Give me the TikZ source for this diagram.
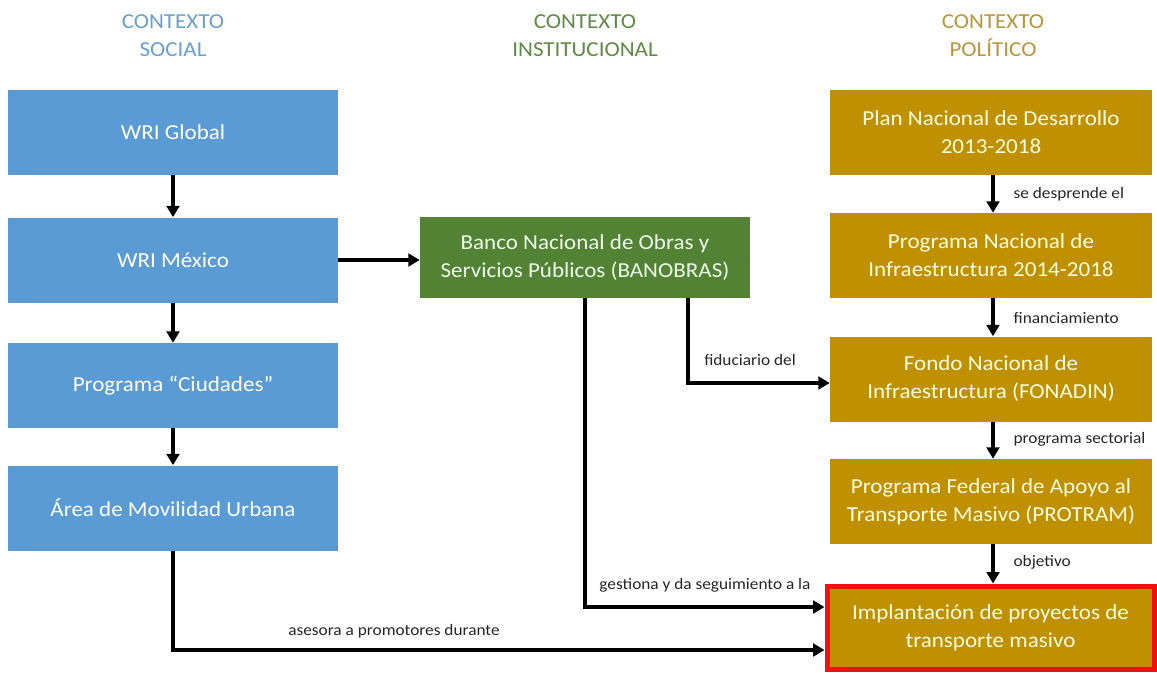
\documentclass[tikz,border=0pt]{standalone}
\usepackage{fontspec}
\setmainfont{Carlito}[FakeStretch=1.08]
\usetikzlibrary{arrows.meta}
\definecolor{cblue}{HTML}{5B9BD5}
\definecolor{cgreen}{HTML}{548235}
\definecolor{cgold}{HTML}{BF9000}
\definecolor{tblue}{HTML}{6A9FD0}
\definecolor{tgreen}{HTML}{5E8A45}
\definecolor{tgold}{HTML}{B8963A}
\definecolor{cred}{HTML}{F01010}
\begin{document}
\begin{tikzpicture}[x=0.75pt,y=-0.75pt,
  box/.style={rectangle, inner sep=0pt, align=center, font=\fontsize{16}{21}\selectfont},
  sbox/.style={box, fill=cblue, text=white, minimum width=247.5pt, minimum height=63.75pt},
  gbox/.style={box, fill=cgreen, text=green!8, minimum width=247.5pt, minimum height=60.75pt},
  pbox/.style={box, fill=cgold, text=yellow!12, minimum width=241.5pt, minimum height=63.75pt},
  finalbox/.style={pbox, draw=cred, line width=3.75pt, minimum width=245.25pt, minimum height=62.25pt},
  arr/.style={-{Triangle[length=8.5pt,width=9.5pt]}, line width=2.6pt},
  lbl/.style={font=\fontsize{12}{14}\selectfont, text=black!85, inner sep=1pt},
  title/.style={align=center, font=\fontsize{16}{21}\selectfont}]
\useasboundingbox (0,0) rectangle (1157,672);
% titles
\node[title, text=tblue] (t1) at (173,36) {CONTEXTO\\SOCIAL};
\node[title, text=tgreen] (t2) at (585,36) {CONTEXTO\\INSTITUCIONAL};
\node[title, text=tgold] (t3) at (993,36) {CONTEXTO\\POL\'ITICO};
% social
\node[sbox] (g) at (173,132.5) {WRI Global};
\node[sbox] (m) at (173,260) {WRI México};
\node[sbox] (c) at (173,385.5) {Programa “Ciudades”};
\node[sbox] (a) at (173,508) {Área de Movilidad Urbana};
% institutional
\node[gbox] (b) at (585,257.5) {Banco Nacional de Obras y\\Servicios Públicos (BANOBRAS)};
% political
\node[pbox] (p1) at (991,132.5) {Plan Nacional de Desarrollo\\2013-2018};
\node[pbox] (p2) at (991,255.5) {Programa Nacional de\\Infraestructura 2014-2018};
\node[pbox] (p3) at (991,379) {Fondo Nacional de\\Infraestructura (FONADIN)};
\node[pbox] (p4) at (991,501.5) {Programa Federal de Apoyo al\\Transporte Masivo (PROTRAM)};
\node[finalbox] (p5) at (990.5,627.5) {Implantación de proyectos de\\transporte masivo};
% helper coordinates
\coordinate (ya) at (0,650);
\coordinate (yb) at (0,607);
\coordinate (yf) at (0,383);
\coordinate (xf) at (688,0);
\coordinate (xr) at (993,0);
% social arrows
\draw[arr] (g) -- (m);
\draw[arr] (m) -- (c);
\draw[arr] (c) -- (a);
\draw[arr] (m.east) -- (m.east -| b.west);
\draw[arr] (a.south) |- (p5.west |- ya);
% banobras
\draw[arr] (b.south) |- (p5.west |- yb);
\draw[arr] (b.south -| xf) |- (p3.west |- yf);
% political arrows
\draw[arr] (p1.south -| xr) -- (p2.north -| xr);
\draw[arr] (p2.south -| xr) -- (p3.north -| xr);
\draw[arr] (p3.south -| xr) -- (p4.north -| xr);
\draw[arr] (p4.south -| xr) -- (p5.north -| xr);
% labels
\node[lbl] (l1) at (394,631) {asesora a promotores durante};
\node[lbl] (l2) at (705,585) {gestiona y da seguimiento a la};
\node[lbl] (l3) at (750,360) {fiduciario del};
\node[lbl, anchor=west] (l4) at (1012,194) {se desprende el};
\node[lbl, anchor=west] (l5) at (1012,318) {financiamiento};
\node[lbl, anchor=west] (l6) at (1012,439) {programa sectorial};
\node[lbl, anchor=west] (l7) at (1012,562) {objetivo};
\end{tikzpicture}
\end{document}
